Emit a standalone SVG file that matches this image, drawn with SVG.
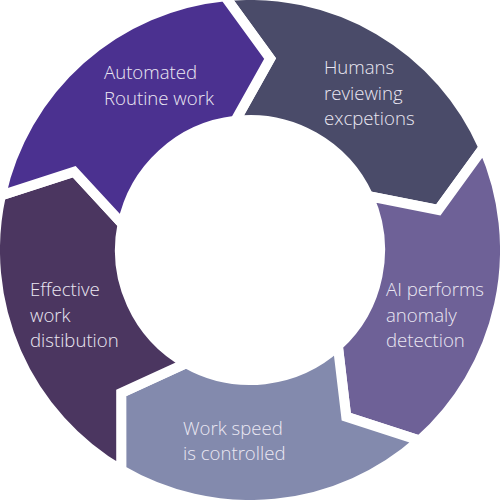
<svg xmlns="http://www.w3.org/2000/svg" xmlns:xlink="http://www.w3.org/1999/xlink" width="500" height="500" viewBox="0 0 500 500">
<style>
  .seg { stroke: #ffffff; stroke-width: 10; stroke-linejoin: miter; stroke-miterlimit: 10; }
  .lbl { font-family: "Open Sans", "Noto Sans", "Liberation Sans", sans-serif; font-weight: 300; font-size: 18.6px; fill: #ebe8f3; }
</style>
<defs>
  <path id="seg" d="M -3,-255 A 255 255 0 0 1 241.59,-81.65 L 191.06,-23.46 L 122.59,-43.41 A 130 130 0 0 0 -3.4,-130 L 36.73,-188.96 Z"/>
</defs>
<rect width="500" height="500" fill="#ffffff"/>
<g id="node-humans">
  <use xlink:href="#seg" class="seg" fill="#4a4b69" transform="translate(250 250) rotate(-5)"/>
  <text class="lbl" x="324" y="74">Humans</text>
  <text class="lbl" x="324" y="99.5">reviewing</text>
  <text class="lbl" x="324" y="125">excpetions</text>
</g>
<g id="node-ai">
  <use xlink:href="#seg" class="seg" fill="#6e6197" transform="translate(250 250) rotate(67)"/>
  <text class="lbl" x="386" y="296">AI performs</text>
  <text class="lbl" x="386" y="321.5">anomaly</text>
  <text class="lbl" x="386" y="347">detection</text>
</g>
<g id="node-speed">
  <use xlink:href="#seg" class="seg" fill="#838aad" transform="translate(250 250) rotate(139)"/>
  <text class="lbl" x="183" y="435">Work speed</text>
  <text class="lbl" x="183" y="460">is controlled</text>
</g>
<g id="node-effective">
  <use xlink:href="#seg" class="seg" fill="#4b3660" transform="translate(250 250) rotate(211)"/>
  <text class="lbl" x="30" y="296">Effective</text>
  <text class="lbl" x="30" y="321.5">work</text>
  <text class="lbl" x="30" y="347">distibution</text>
</g>
<g id="node-automated">
  <use xlink:href="#seg" class="seg" fill="#4b3190" transform="translate(250 250) rotate(283)"/>
  <text class="lbl" x="104" y="79">Automated</text>
  <text class="lbl" x="104" y="104.5">Routine work</text>
</g>
<g id="connectors"></g>
</svg>
